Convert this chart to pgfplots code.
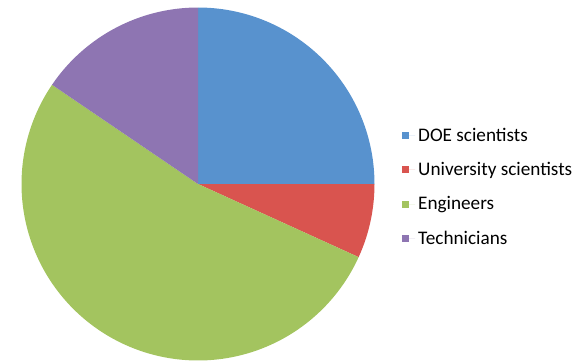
\documentclass[border=0pt]{standalone}
\usepackage{pgfplots}
\usepackage{pgfplotstable}
\pgfplotsset{compat=1.18}
\usepackage{fontspec}
\setmainfont{Carlito}
\definecolor{cDOE}{RGB}{88,146,206}
\definecolor{cUni}{RGB}{217,84,79}
\definecolor{cEng}{RGB}{163,196,95}
\definecolor{cTec}{RGB}{142,117,178}
\pgfplotstableread{
label share
DOE 25.0
Univ 6.8
Eng 52.7
Tech 15.5
}\piedata
\pgfplotstablegetelem{0}{share}\of\piedata \let\sA\pgfplotsretval
\pgfplotstablegetelem{1}{share}\of\piedata \let\sB\pgfplotsretval
\pgfplotstablegetelem{2}{share}\of\piedata \let\sC\pgfplotsretval
\pgfplotstablegetelem{3}{share}\of\piedata \let\sD\pgfplotsretval
\pgfmathsetmacro{\aA}{90}
\pgfmathsetmacro{\aB}{\aA-3.6*\sA}
\pgfmathsetmacro{\aC}{\aB-3.6*\sB}
\pgfmathsetmacro{\aD}{\aC-3.6*\sC}
\pgfmathsetmacro{\aE}{\aD-3.6*\sD}
\def\cx{198}\def\cy{176}\def\rr{176.5}
\begin{document}
\begin{tikzpicture}
\begin{axis}[
  scale only axis, width=586pt, height=360pt,
  xmin=0, xmax=586, ymin=0, ymax=360,
  hide axis, clip=false,
  legend style={at={(axis cs:402,232)}, anchor=north west, draw=none, fill=none,
    font=\fontsize{19.2}{21}\selectfont, row sep=19.5pt, inner sep=0pt,
    nodes={inner xsep=3pt, inner ysep=0pt}},
  legend cell align=left,
  legend image code/.code={\fill[#1] (0pt,-3.5pt) rectangle (7pt,3.5pt);\path (7pt,0pt) -- (13pt,0pt);},
]
\path (0,0) rectangle (586,360);
\addplot[fill=cDOE, draw=none, domain=\aB:\aA, samples=80] ({\cx+\rr*cos(x)},{\cy+\rr*sin(x)}) -- (\cx,\cy) -- cycle;
\addlegendentry{DOE scientists}
\addplot[fill=cUni, draw=none, domain=\aC:\aB, samples=30] ({\cx+\rr*cos(x)},{\cy+\rr*sin(x)}) -- (\cx,\cy) -- cycle;
\addlegendentry{University scientists}
\addplot[fill=cEng, draw=none, domain=\aD:\aC, samples=150] ({\cx+\rr*cos(x)},{\cy+\rr*sin(x)}) -- (\cx,\cy) -- cycle;
\addlegendentry{Engineers}
\addplot[fill=cTec, draw=none, domain=\aE:\aD, samples=60] ({\cx+\rr*cos(x)},{\cy+\rr*sin(x)}) -- (\cx,\cy) -- cycle;
\addlegendentry{Technicians}
\end{axis}
\pgfresetboundingbox
\path[use as bounding box] (current axis.south west) rectangle (current axis.north east);
\end{tikzpicture}
\end{document}
